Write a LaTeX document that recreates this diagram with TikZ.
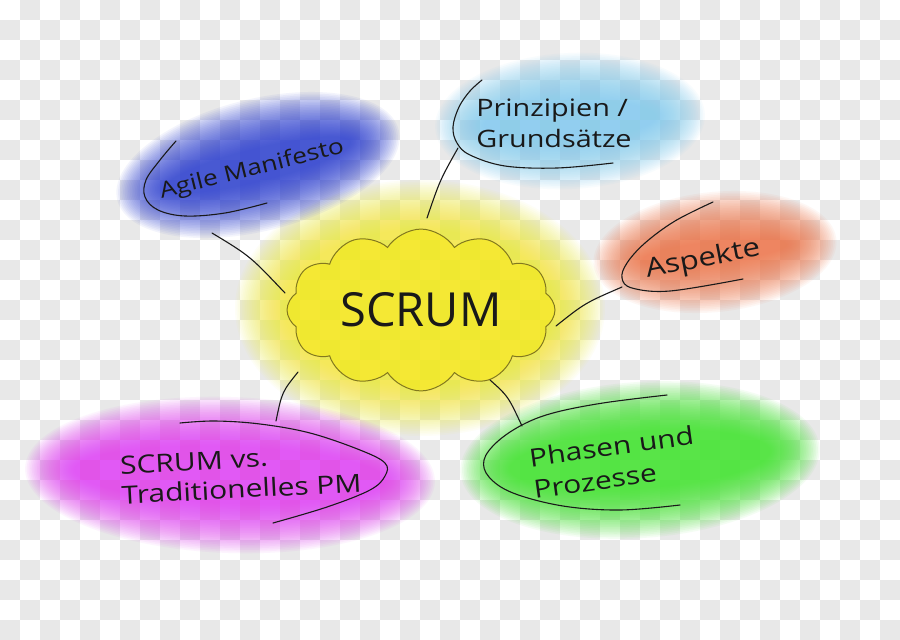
\documentclass[tikz,border=0pt]{standalone}
\usepackage{graphicx}
\usepackage{fontspec}
\setmainfont{Open Sans}
\usetikzlibrary{shapes.symbols}
\definecolor{chk}{RGB}{232,232,232}
\definecolor{ink}{RGB}{25,25,25}
\definecolor{cloudline}{RGB}{130,120,30}
\definecolor{gblue}{RGB}{40,60,210}
\definecolor{gcyan}{RGB}{130,205,240}
\definecolor{gyellow}{RGB}{245,232,20}
\definecolor{gorange}{RGB}{238,115,70}
\definecolor{gmagenta}{RGB}{225,60,245}
\definecolor{ggreen}{RGB}{60,228,40}
\newcommand{\myglow}[7]{%
  \foreach \k in {0,...,29}{%
    \fill[#1, opacity=#7, rotate around={#6:(#2,#3)}] (#2,#3) ellipse ({#4-1.7*\k} and {#5-1.7*\k});
  }%
}
\newcommand{\hw}[1]{\scalebox{1.2}[1]{#1}}
\tikzset{
  lbl/.style={inner sep=0pt, text=ink},
  arcline/.style={draw=ink, line width=1.1pt, line cap=round, line join=round},
  cloudbox/.style={cloud, cloud puffs=12, cloud puff arc=115, aspect=1.7,
    draw=cloudline, fill=gyellow, fill opacity=0.55, text opacity=1, line width=1pt,
    minimum width=268pt, minimum height=156pt, inner sep=0pt, text=ink}
}
\begin{document}
\begin{tikzpicture}[x=1pt,y=-1pt]
\useasboundingbox (0,0) rectangle (900,640);
\clip (0,0) rectangle (900,640);
\fill[white] (0,0) rectangle (900,640);
\foreach \yy in {0,40,...,600}{
  \foreach \xx in {20,60,...,900}{
    \fill[chk] (\xx,\yy) rectangle ++(20,20);
  }
  \foreach \xx in {0,40,...,880}{
    \fill[chk] (\xx,\yy+20) rectangle ++(20,20);
  }
}
% glows
\myglow{gyellow}{420}{308}{185}{128}{0}{0.035}
\myglow{gblue}{258}{165}{145}{66}{14}{0.055}
\myglow{gcyan}{570}{121}{135}{68}{3}{0.055}
\myglow{gorange}{715}{252}{122}{60}{6}{0.055}
\myglow{gmagenta}{230}{475}{205}{78}{-2}{0.055}
\myglow{ggreen}{640}{460}{180}{78}{4}{0.055}

% central cloud
\node[cloudbox] (scrum) at (421,310) {\fontsize{47}{50}\selectfont SCRUM};

% labels
\node[lbl, rotate=14] (agile) at (252,170) {\fontsize{22}{28}\selectfont\hw{Agile Manifesto}};
\node[lbl] (prinz) at (554,126) {\fontsize{24}{31}\selectfont\hw{\begin{tabular}{@{}l@{}}Prinzipien /\\Grundsätze\end{tabular}}};
\node[lbl, rotate=11] (aspekte) at (703,260) {\fontsize{26}{30}\selectfont\hw{Aspekte}};
\node[lbl, rotate=3] (trad) at (241,477) {\fontsize{25}{30}\selectfont\hw{\begin{tabular}{@{}l@{}}SCRUM vs.\\Traditionelles PM\end{tabular}}};
\node[lbl, rotate=8] (phasen) at (614,465) {\fontsize{25}{32}\selectfont\hw{\begin{tabular}{@{}l@{}}Phasen und\\Prozesse\end{tabular}}};

% arcs around labels
\draw[arcline] plot[smooth, tension=0.6] coordinates {(176,141) (160,160) (146,180) (145,197) (158,210) (185,216) (225,213) (267,203)};
\draw[arcline] plot[smooth, tension=0.6] coordinates {(482,80) (470,91) (459,107) (453,127) (457,143) (470,155) (505,166) (557,168) (613,163)};
\draw[arcline] plot[smooth, tension=0.6] coordinates {(713,202) (675,221) (645,243) (627,263) (622,278) (632,288) (670,291) (743,279)};
\draw[arcline] plot[smooth, tension=0.6] coordinates {(180,423) (215,421) (260,424) (310,433) (360,450) (385,463) (385,476) (370,490) (327,507) (273,523)};
\draw[arcline] plot[smooth, tension=0.6] coordinates {(667,395) (603,403) (553,413) (522,425) (497,442) (484,460) (489,477) (513,493) (563,506) (620,510) (680,505)};

% connectors
\coordinate (agA) at (212,233);
\coordinate (agB) at (285,293);
\coordinate (prA) at (458,148);
\coordinate (prB) at (427,218);
\coordinate (asA) at (622,287);
\coordinate (asB) at (556,326);
\coordinate (trA) at (276,421);
\coordinate (trB) at (298,372);
\coordinate (phA) at (522,426);
\coordinate (phB) at (490,380);
\draw[arcline] (agA) .. controls (250,256) .. (agB);
\draw[arcline] (prA) .. controls (440,180) .. (prB);
\draw[arcline] (asA) .. controls (585,303) .. (asB);
\draw[arcline] (trA) .. controls (282,392) .. (trB);
\draw[arcline] (phA) .. controls (508,396) .. (phB);
\end{tikzpicture}
\end{document}
